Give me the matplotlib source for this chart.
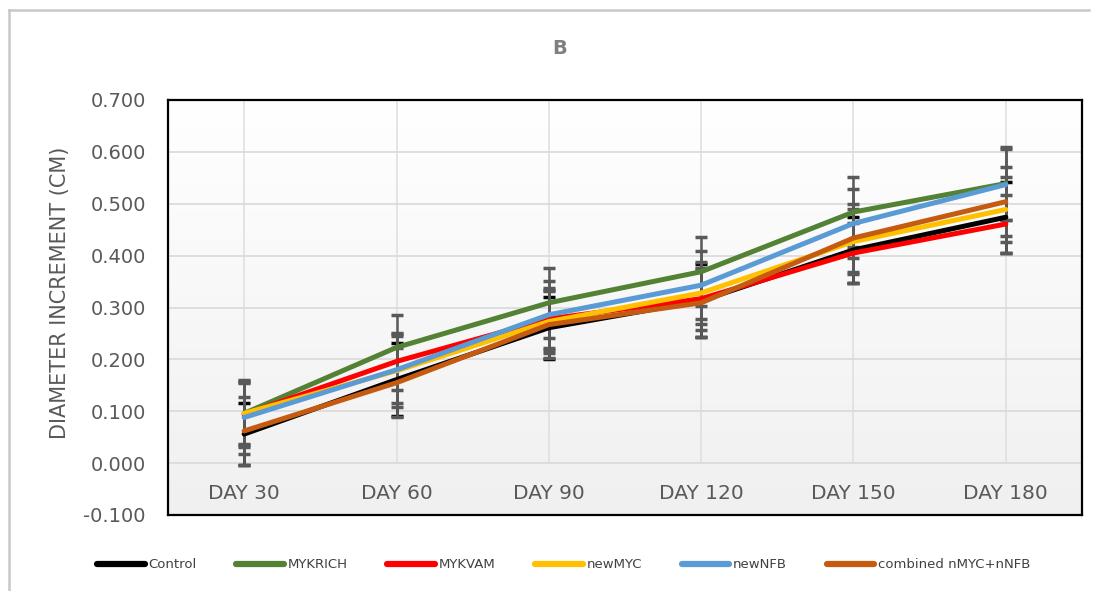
import matplotlib.pyplot as plt
from matplotlib.colors import LinearSegmentedColormap
from matplotlib.lines import Line2D
import numpy as np

days = ["DAY 30", "DAY 60", "DAY 90", "DAY 120", "DAY 150", "DAY 180"]

control = [0.056, 0.161, 0.261, 0.313, 0.411, 0.474]
mykrich = [0.096, 0.223, 0.309, 0.369, 0.484, 0.539]
mykvam = [0.094, 0.196, 0.278, 0.317, 0.405, 0.461]
newmyc = [0.096, 0.178, 0.273, 0.328, 0.427, 0.489]
newnfb = [0.088, 0.180, 0.286, 0.343, 0.462, 0.537]
combined = [0.062, 0.155, 0.267, 0.309, 0.434, 0.504]

control_err = [0.060, 0.070, 0.060, 0.070, 0.064, 0.068]
mykrich_err = [0.060, 0.063, 0.067, 0.066, 0.067, 0.070]
mykvam_err = [0.060, 0.055, 0.060, 0.060, 0.058, 0.055]
newmyc_err = [0.065, 0.070, 0.060, 0.060, 0.062, 0.062]
newnfb_err = [0.070, 0.065, 0.065, 0.065, 0.067, 0.068]
combined_err = [0.065, 0.067, 0.065, 0.065, 0.065, 0.067]

series = [
    ("Control", control, control_err, "#000000"),
    ("MYKRICH", mykrich, mykrich_err, "#548235"),
    ("MYKVAM", mykvam, mykvam_err, "#FF0000"),
    ("newMYC", newmyc, newmyc_err, "#FFC000"),
    ("newNFB", newnfb, newnfb_err, "#5B9BD5"),
    ("combined nMYC+nNFB", combined, combined_err, "#C55A11"),
]

text_color = "#595959"
plt.rcParams["font.family"] = ["DejaVu Sans"]

fig = plt.figure(figsize=(10.99, 5.91), dpi=100)
ax = fig.add_axes([168 / 1099, 1 - 515 / 591, (1082 - 168) / 1099, (515 - 100) / 591])

x = np.arange(len(days))
ymin, ymax = -0.1, 0.7

# soft white-to-grey fill behind the plot
grad_cmap = LinearSegmentedColormap.from_list("bg", ["#f0f0f0", "#ffffff"])
grad = np.linspace(0, 1, 256).reshape(-1, 1)
ax.imshow(grad, extent=[-0.5, len(days) - 0.5, ymin, ymax], origin="lower",
          aspect="auto", cmap=grad_cmap, zorder=0)

ax.set_yticks(np.arange(-0.1, 0.71, 0.1))
ax.yaxis.grid(True, color="#d9d9d9", linewidth=1.2)
ax.set_axisbelow(True)
ax.vlines(x, 0, ymax, color="#dedede", linewidth=1.1, zorder=0.5)

for label, vals, errs, color in series:
    ecolor = "#000000" if label == "Control" else text_color
    ax.errorbar(x, vals, yerr=errs, fmt="none", ecolor=ecolor,
                elinewidth=1.8, capsize=4, capthick=2.5, zorder=2)

for label, vals, errs, color in series:
    ax.plot(x, vals, color=color, linewidth=3.6, label=label,
            solid_capstyle="round", zorder=3)

ax.set_xlim(-0.5, len(days) - 0.5)
ax.set_ylim(ymin, ymax)
ax.set_xticks([])
for i, day in enumerate(days):
    ax.text(i, -0.058, day, ha="center", va="center", fontsize=14.5, color=text_color)

ax.set_yticklabels([f"{v:.3f}" for v in np.arange(-0.1, 0.71, 0.1)])
ax.tick_params(axis="y", length=0, pad=16, labelsize=14, labelcolor=text_color)
for spine in ax.spines.values():
    spine.set_color("black")
    spine.set_linewidth(1.6)

fig.text(60 / 1099, 1 - 293 / 591, "DIAMETER INCREMENT (CM)", rotation=90,
         ha="center", va="center", fontsize=15, color=text_color)
fig.text(560 / 1099, 1 - 49 / 591, "B", ha="center", va="center",
         fontsize=14, fontweight="bold", color="#7f7f7f")

handles = [Line2D([], [], color=c, linewidth=4.5, solid_capstyle="round")
           for _, _, _, c in series]
fig.legend(handles, [s[0] for s in series], loc="center",
           bbox_to_anchor=(0.513, 1 - 565 / 591), ncol=6, frameon=False,
           fontsize=9.5, handlelength=3.6, handletextpad=0.3, columnspacing=3.0,
           labelcolor="#404040")

# thin light frame around the chart area
fig.add_artist(Line2D([9 / 1099, 9 / 1099], [0, 1 - 10 / 591],
                      transform=fig.transFigure, color="#c8c8c8", linewidth=1.8))
fig.add_artist(Line2D([9 / 1099, 1089 / 1099], [1 - 10 / 591, 1 - 10 / 591],
                      transform=fig.transFigure, color="#c8c8c8", linewidth=1.8))

fig.savefig("out.png", dpi=100)
